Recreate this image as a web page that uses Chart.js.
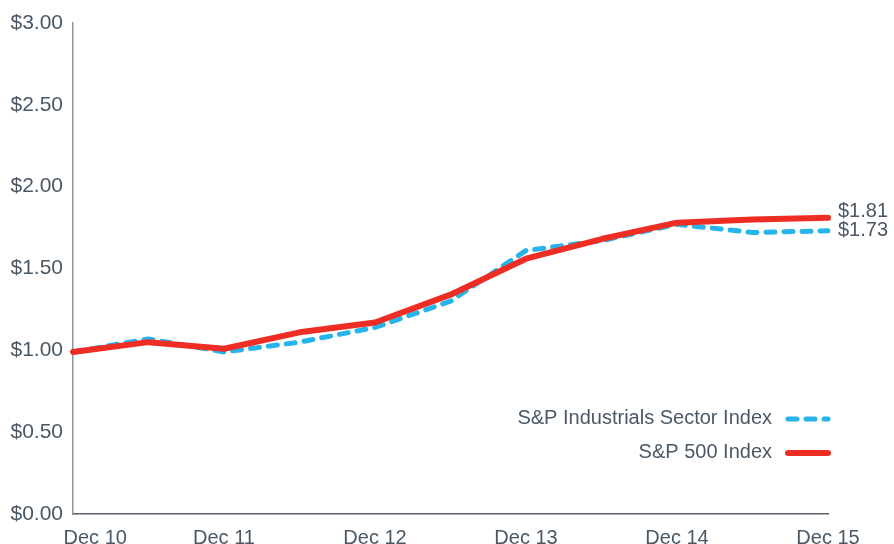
<!doctype html>
<html>
	<head>
		<title>Cumulative Total Return</title>
		<script src="https://cdn.jsdelivr.net/npm/chart.js@4.4.1/dist/chart.umd.min.js"></script>
		<style>
			body{margin:0;background:#fff;}
		</style>
	</head>
	<body>
		<canvas id="chart" width="894" height="544"></canvas>
		<script>
			// semi-annual points, labels only on December
			const periods=['Dec 10','Jun 11','Dec 11','Jun 12','Dec 12','Jun 13','Dec 13','Jun 14','Dec 14','Jun 15','Dec 15'];
			const tickLabels=['Dec 10','','Dec 11','','Dec 12','','Dec 13','','Dec 14','','Dec 15'];
			const sp500=[0.99,1.05,1.01,1.11,1.17,1.34,1.56,1.68,1.78,1.80,1.81];
			const industrials=[0.99,1.07,0.99,1.05,1.14,1.30,1.61,1.67,1.77,1.72,1.73];
			const yTicks=[0,0.5,1,1.5,2,2.5,3];

			const textColor='#4a5866';
			const font='"Liberation Sans", Arial, sans-serif';
			const money=v=>'$'+v.toFixed(2);

			// end-of-line value labels and the legend at the lower right
			const extras={
				id:'extras',
				afterDatasetsDraw(chart){
					const ctx=chart.ctx;
					const area=chart.chartArea;
					ctx.save();
					ctx.font='20px '+font;
					ctx.fillStyle=textColor;
					ctx.textBaseline='middle';
					ctx.textAlign='left';
					chart.data.datasets.forEach((ds,i)=>{
						const pts=chart.getDatasetMeta(i).data;
						const p=pts[pts.length-1];
						ctx.fillText(money(ds.data[ds.data.length-1]),p.x+10,p.y+ds.endOffset);
					});
					// legend: industrials first, then S&P 500
					const order=[1,0];
					order.forEach((idx,row)=>{
						const ds=chart.data.datasets[idx];
						const y=418+row*34;
						ctx.textAlign='right';
						ctx.fillStyle=textColor;
						ctx.fillText(ds.label,772,y);
						ctx.beginPath();
						ctx.strokeStyle=ds.borderColor;
						ctx.lineWidth=ds.borderWidth;
						ctx.lineCap='round';
						ctx.setLineDash(ds.borderDash||[]);
						ctx.moveTo(788,y+1);
						ctx.lineTo(area.right,y+1);
						ctx.stroke();
					});
					ctx.restore();
				}
			};

			const ctx=document.getElementById('chart').getContext('2d');
			const myChart=new Chart(ctx,{
				type:'line',
				data:{
					labels:periods,
					datasets:[{
						label:'S&P 500 Index',
						data:sp500,
						borderColor:'#ee2e24',
						borderWidth:6,
						borderCapStyle:'round',
						borderJoinStyle:'round',
						pointRadius:0,
						tension:0,
						fill:false,
						endOffset:-6
					},{
						label:'S&P Industrials Sector Index',
						data:industrials,
						borderColor:'#27b4ea',
						borderWidth:5,
						borderDash:[9,9],
						borderCapStyle:'round',
						borderJoinStyle:'round',
						pointRadius:0,
						tension:0,
						fill:false,
						endOffset:0
					}]
				},
				options:{
					responsive:false,
					animation:false,
					layout:{padding:{top:23,right:66,left:0,bottom:0}},
					plugins:{legend:{display:false},tooltip:{enabled:false}},
					scales:{
						x:{
							offset:false,
							grid:{display:false,drawTicks:false},
							border:{color:'#56606a',width:1.5},
							afterFit(scale){scale.height=30;},
							ticks:{
								autoSkip:false,
								maxRotation:0,
								padding:12,
								color:textColor,
								font:{family:font,size:20},
								callback:(v,i)=>i===0?'        '+tickLabels[i]:tickLabels[i]
							}
						},
						y:{
							min:0,
							max:3,
							grid:{display:false,drawTicks:false},
							border:{color:'#8d969e',width:1.5},
							afterFit(scale){scale.width=73;},
							afterBuildTicks(scale){scale.ticks=yTicks.map(v=>({value:v}));},
							ticks:{
								padding:10,
								color:textColor,
								font:{family:font,size:21},
								callback:v=>money(v)
							}
						}
					}
				},
				plugins:[extras]
			});
		</script>
	</body>
</html>
